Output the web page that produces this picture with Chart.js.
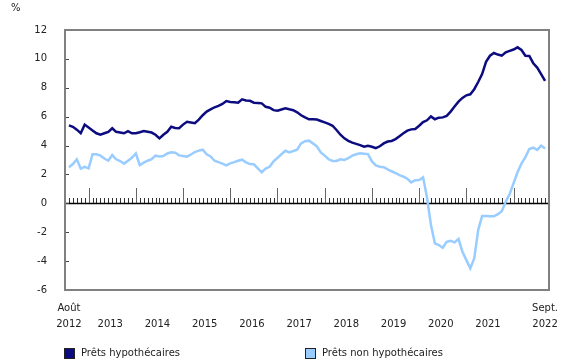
<!DOCTYPE html>
<html lang="fr">
<head>
<meta charset="utf-8">
<script src="https://cdn.jsdelivr.net/npm/chart.js@4"></script>
<style>
  body { margin: 0; background: #fff; font-family: "DejaVu Sans", Verdana, sans-serif; }
  #wrap { position: relative; width: 580px; height: 360px; }
  #unit { position: absolute; left: 11px; top: 2px; font-size: 10px; color: #222; }
  .leg { position: absolute; top: 347px; font-size: 10px; color: #222; display: flex; align-items: center; line-height: 12px; }
  .leg .box { width: 9px; height: 9px; border: 1px solid #222; margin-right: 6px; }
</style>
</head>
<body>
<div id="wrap">
  <canvas id="myChart" width="580" height="360"></canvas>
  <div id="unit">%</div>
  <div class="leg" style="left:64px"><span class="box" style="background:#0c0c80"></span>Prêts hypothécaires</div>
  <div class="leg" style="left:305px"><span class="box" style="background:#99ccff"></span>Prêts non hypothécaires</div>
</div>
<script>
// période : août 2012 à septembre 2022, données mensuelles
const startYear = 2012;
const startMonth = 8;
const nbMonths = 122;

// taux de croissance, prêts hypothécaires (%)
const mortgage = [
  5.40, 5.30, 5.10, 4.85, 5.45, 5.25, 5.05, 4.85, 4.75, 4.85, 4.95, 5.20,
  4.95, 4.90, 4.85, 5.00, 4.85, 4.85, 4.92, 5.00, 4.95, 4.90, 4.75, 4.50,
  4.75, 4.95, 5.30, 5.22, 5.20, 5.45, 5.65, 5.60, 5.55, 5.80, 6.10, 6.35,
  6.50, 6.65, 6.75, 6.88, 7.08, 7.02, 7.00, 6.97, 7.20, 7.12, 7.10, 6.97,
  6.95, 6.92, 6.68, 6.62, 6.45, 6.41, 6.50, 6.58, 6.51, 6.45, 6.30, 6.10,
  5.95, 5.82, 5.82, 5.80, 5.70, 5.60, 5.50, 5.37, 5.08, 4.75, 4.50, 4.33,
  4.20, 4.12, 4.03, 3.92, 3.99, 3.92, 3.82, 3.95, 4.15, 4.28, 4.32, 4.45,
  4.65, 4.85, 5.03, 5.12, 5.15, 5.37, 5.62, 5.75, 6.02, 5.82, 5.93, 5.95,
  6.05, 6.35, 6.70, 7.04, 7.30, 7.48, 7.55, 7.90, 8.40, 8.95, 9.80, 10.22,
  10.41, 10.30, 10.22, 10.45, 10.55, 10.65, 10.80, 10.62, 10.22, 10.20, 9.70, 9.40,
  8.95, 8.47
];

// taux de croissance, prêts non hypothécaires (%)
const nonMortgage = [
  2.50, 2.72, 3.05, 2.40, 2.52, 2.42, 3.40, 3.40, 3.30, 3.10, 2.95, 3.34,
  3.05, 2.93, 2.75, 2.95, 3.15, 3.45, 2.65, 2.82, 2.95, 3.05, 3.30, 3.25,
  3.28, 3.45, 3.53, 3.50, 3.32, 3.28, 3.23, 3.38, 3.55, 3.65, 3.71, 3.40,
  3.25, 2.95, 2.85, 2.75, 2.63, 2.77, 2.85, 2.95, 3.02, 2.84, 2.72, 2.70,
  2.42, 2.15, 2.40, 2.53, 2.90, 3.15, 3.40, 3.64, 3.53, 3.62, 3.72, 4.15,
  4.30, 4.34, 4.15, 3.95, 3.53, 3.30, 3.05, 2.93, 2.93, 3.05, 3.00, 3.12,
  3.30, 3.40, 3.46, 3.44, 3.41, 2.90, 2.62, 2.53, 2.50, 2.35, 2.22, 2.10,
  1.95, 1.85, 1.70, 1.45, 1.60, 1.62, 1.80, 0.40, -1.50, -2.77, -2.89, -3.07,
  -2.66, -2.59, -2.70, -2.47, -3.35, -3.93, -4.50, -3.81, -1.85, -0.88, -0.88, -0.90,
  -0.90, -0.75, -0.55, 0.10, 0.65, 1.40, 2.15, 2.75, 3.20, 3.76, 3.85, 3.70,
  4.00, 3.80
];

// étiquettes de l'axe des x
const firstLabel = ['Août', '2012'];
const lastLabel = ['Sept.', '2022'];
const yTicks = [-6, -4, -2, 0, 2, 4, 6, 8, 10, 12];

// liste des mois (année, mois)
const months = [];
for (let i = 0; i < nbMonths; i++) {
  const m = startMonth - 1 + i;
  months.push({ year: startYear + Math.floor(m / 12), month: (m % 12) + 1 });
}

// position des étiquettes : premier mois, milieu de chaque année complète, dernier mois
const xLabels = new Map();
xLabels.set(0, firstLabel);
for (let yr = startYear + 1; yr < months[nbMonths - 1].year; yr++) {
  const idx = months.map((m, i) => m.year === yr ? i : -1).filter(i => i >= 0);
  xLabels.set((idx[0] + idx[idx.length - 1]) / 2, ['', String(yr)]);
}
xLabels.set(nbMonths - 1, lastLabel);

const font = { family: '"DejaVu Sans", Verdana, sans-serif', size: 10 };

// cadre, ligne du zéro et petites marques des mois
const axisMarks = {
  id: 'axisMarks',
  beforeDatasetsDraw(chart) {
    const { ctx, chartArea: a, scales: { x, y } } = chart;
    const y0 = Math.round(y.getPixelForValue(0));
    ctx.save();
    ctx.lineWidth = 1;
    months.forEach((m, i) => {
      const px = Math.round(x.getPixelForValue(i)) + 0.5;
      const len = m.month === 1 ? 15 : 5;
      ctx.strokeStyle = m.month === 1 ? '#666' : '#333';
      ctx.beginPath();
      ctx.moveTo(px, y0);
      ctx.lineTo(px, y0 - len);
      ctx.stroke();
    });
    ctx.strokeStyle = '#000';
    ctx.lineWidth = 1.5;
    ctx.beginPath();
    ctx.moveTo(a.left, y0 + 0.5);
    ctx.lineTo(a.right, y0 + 0.5);
    ctx.stroke();

    ctx.strokeStyle = '#444';
    ctx.lineWidth = 1;
    yTicks.forEach(v => {
      const py = Math.round(y.getPixelForValue(v)) + 0.5;
      ctx.beginPath();
      ctx.moveTo(a.left, py);
      ctx.lineTo(a.left + 4, py);
      ctx.stroke();
    });

    ctx.strokeStyle = '#808080';
    ctx.lineWidth = 2;
    ctx.strokeRect(a.left, a.top, a.right - a.left, a.bottom - a.top);
    ctx.restore();
  }
};

new Chart(document.getElementById('myChart'), {
  type: 'line',
  data: {
    datasets: [
      {
        label: 'Prêts hypothécaires',
        data: mortgage.map((v, i) => ({ x: i, y: v })),
        borderColor: '#0c0c80',
        backgroundColor: '#0c0c80',
        borderWidth: 2.5,
        pointRadius: 0,
        tension: 0
      },
      {
        label: 'Prêts non hypothécaires',
        data: nonMortgage.map((v, i) => ({ x: i, y: v })),
        borderColor: '#99ccff',
        backgroundColor: '#99ccff',
        borderWidth: 2.5,
        pointRadius: 0,
        tension: 0
      }
    ]
  },
  options: {
    responsive: false,
    animation: false,
    layout: { padding: { left: 0, right: 31, top: 30, bottom: 30 } },
    plugins: { legend: { display: false }, tooltip: { enabled: false } },
    scales: {
      x: {
        type: 'linear',
        min: -1,
        max: nbMonths,
        grid: { display: false },
        border: { display: false },
        afterBuildTicks: (scale) => {
          scale.ticks = [...xLabels.keys()].map(v => ({ value: v }));
        },
        afterFit: (scale) => { scale.height = 40; },
        ticks: {
          autoSkip: false,
          maxRotation: 0,
          padding: 3,
          color: '#222',
          font: { ...font, lineHeight: 1.55 },
          callback: (v) => xLabels.get(v) || ''
        }
      },
      y: {
        min: -6,
        max: 12,
        grid: { display: false },
        border: { display: false },
        afterFit: (scale) => { scale.width = 65; },
        ticks: {
          stepSize: 2,
          padding: 10,
          color: '#222',
          font: font
        }
      }
    }
  },
  plugins: [axisMarks]
});
</script>
</body>
</html>
